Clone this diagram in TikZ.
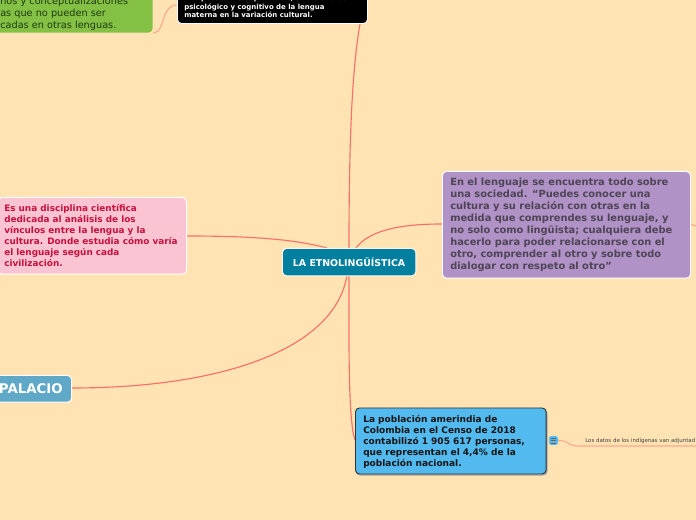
\documentclass[tikz,border=0pt]{standalone}
\usepackage{fontspec}
\setmainfont{DejaVu Sans}
\definecolor{bgc}{HTML}{FFE3B3}
\definecolor{linec}{HTML}{FB6F6A}
\definecolor{sublinec}{HTML}{FFA990}
\definecolor{tealc}{HTML}{007F9E}
\definecolor{purplec}{HTML}{B092C6}
\definecolor{purpletxt}{HTML}{4D4455}
\definecolor{pinkc}{HTML}{FBC4D2}
\definecolor{pinktxt}{HTML}{C8103E}
\definecolor{bluec}{HTML}{52BAEE}
\definecolor{palc}{HTML}{5FA8C8}
\definecolor{greenc}{HTML}{83C043}
\definecolor{greentxt}{HTML}{1E3A10}
\newcommand{\fs}[2]{\fontsize{#1}{#2}\selectfont}
\tikzset{
  x=0.75pt,y=-0.75pt,
  box/.style={rectangle,rounded corners=3pt,draw=white,line width=0.7pt,inner sep=0pt,anchor=north west,align=left},
  mainline/.style={draw=linec,line width=0.85pt},
  subline/.style={draw=sublinec,line width=0.85pt},
  txt/.style={inner sep=0pt,anchor=north west,align=left},
}
\begin{document}
\begin{tikzpicture}
\useasboundingbox (0,0) rectangle (696,520);
\clip (0,0) rectangle (696,520);
\fill[bgc] (0,0) rectangle (696,520);
% anchors
\coordinate (rootTop) at (349,248);
\coordinate (rootBot) at (349,275);
\coordinate (topEnd) at (360,24);
\coordinate (purpleW) at (442,224);
\coordinate (purpleE) at (690,224);
\coordinate (offE) at (696,226);
\coordinate (pinkE) at (187,236);
\coordinate (palE) at (72,388);
\coordinate (blueW) at (355,440);
\coordinate (greenE) at (153,33);
\coordinate (blackW) at (177,5);
\coordinate (iconE) at (558,440.5);
\coordinate (offS) at (696,446);
\coordinate (subBend) at (578,446);
% connectors
\draw[mainline] (rootTop) .. controls (349,140) and (352,70) .. (topEnd);
\draw[mainline] (356,248) .. controls (368,232) and (395,224) .. (purpleW);
\draw[mainline] (327,248) .. controls (290,238) and (240,236) .. (pinkE);
\draw[mainline] (347,275) .. controls (335,350) and (220,388) .. (palE);
\draw[mainline] (rootBot) .. controls (349,340) and (348,420) .. (blueW);
\draw[subline] (greenE) .. controls (166,33) and (160,5) .. (blackW);
\draw[subline] (purpleE) .. controls (692,224) and (694,226) .. (offE);
\draw[subline] (iconE) .. controls (568,440) and (568,446) .. (subBend) -- (offS);
% green
\node[box,fill=greenc,draw=none,minimum width=170pt,minimum height=40pt,anchor=south east] (green) at (153,33) {};
\node[txt,text=greentxt,font=\fs{7.3}{9}] (greentext) at (0,-3.5) {nos y conceptualizaciones\\as que no pueden ser\\cadas en otras lenguas.};
% black
\node[box,fill=black,minimum width=142.5pt,minimum height=30pt,anchor=south west] (black) at (177,24) {};
\node[txt,text=white,font=\bfseries\fs{5.22}{6.4}] (blacktext) at (184,-5) {la hipótesis de Sapir-Whorf, sobre el efecto\\psicológico y cognitivo de la lengua\\materna en la variación cultural.};
% purple
\node[box,fill=purplec,minimum width=186pt,minimum height=80pt] (purple) at (442,171) {};
\node[txt,text=purpletxt,font=\bfseries\fs{7.4}{9}] (purpletext) at (450,178) {En el lenguaje se encuentra todo sobre\\una sociedad. “Puedes conocer una\\cultura y su relación con otras en la\\medida que comprendes su lenguaje, y\\no solo como lingüista; cualquiera debe\\hacerlo para poder relacionarse con el\\otro, comprender al otro y sobre todo\\dialogar con respeto al otro”};
% pink
\node[box,fill=pinkc,minimum width=141pt,minimum height=57.5pt,anchor=north east] (pink) at (187,197) {};
\node[txt,text=pinktxt,font=\bfseries\fs{6.65}{8.25}] (pinktext) at (4,204) {Es una disciplina científica\\dedicada al análisis de los\\vínculos entre la lengua y la\\cultura. Donde estudia cómo varía\\el lenguaje según cada\\civilización.};
% root
\node[box,fill=tealc,minimum width=100pt,minimum height=20.5pt,text=white,font=\bfseries\fs{7.05}{8},anchor=north west,align=center] (root) at (282,248) {LA ETNOLINGÜÍSTICA};
% palacio
\node[box,fill=palc,minimum width=70pt,minimum height=20pt,anchor=north east] (pal) at (72,375) {};
\node[txt,text=white,font=\bfseries\fs{10}{12},anchor=east] (paltext) at (63,389) {PALACIO};
% blue
\fill[black!35,rounded corners=3pt] (356,409) rectangle (547.5,475.5);
\node[box,fill=bluec,draw=black!80,minimum width=143pt,minimum height=49.5pt] (blue) at (355,407.5) {};
\node[txt,text=black!92,font=\bfseries\fs{6.75}{8.25}] (bluetext) at (363,415.5) {La población amerindia de\\Colombia en el Censo de 2018\\contabilizó 1 905 617 personas,\\que representan el 4,4\% de la\\población nacional.};
% icon
\node[rectangle,rounded corners=1pt,fill=bluec,minimum width=6.4pt,minimum height=6.4pt,inner sep=0pt] (icon) at (553.5,440.5) {};
\draw[black!60,line width=0.5pt] (551,438) -- (556,438) (551,440.5) -- (556,440.5) (551,443) -- (556,443);
\node[txt,text=black!75,anchor=west,font=\fs{4.1}{5}] (lowtext) at (585,441) {Los datos de los indígenas van adjuntad};
\end{tikzpicture}
\end{document}
